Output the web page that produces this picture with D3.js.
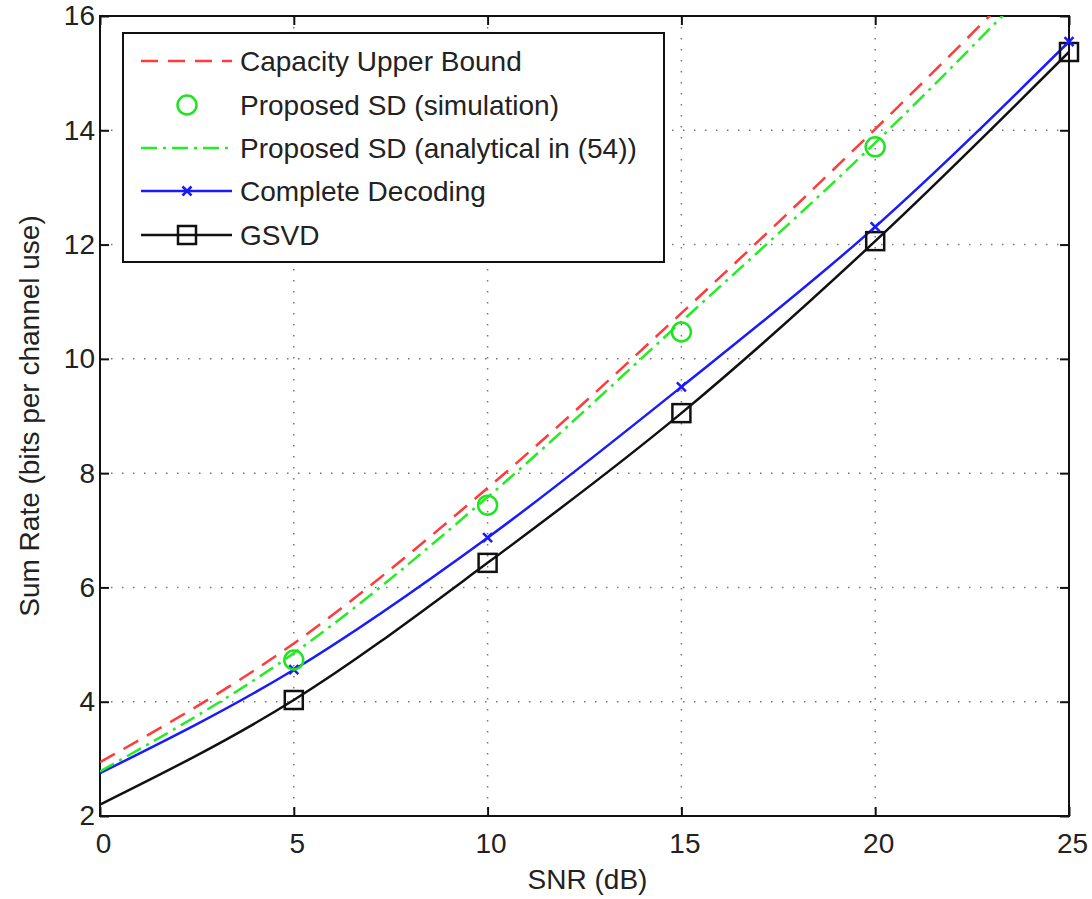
<!DOCTYPE html>
<html>
<head>
<meta charset="utf-8">
<script src="https://cdn.jsdelivr.net/npm/d3@7"></script>
<style>
  body { margin: 0; background: #fff; }
  svg text { font-family: "Liberation Sans", Arial, sans-serif; fill: #222; }
</style>
</head>
<body>
<svg id="chart" width="1092" height="899"></svg>
<script>
// SNR points (dB)
const snr = [0, 5, 10, 15, 20, 25];
const simSnr = [5, 10, 15, 20];

// sum rates
const capacityBound = [2.94, 5.02, 7.74, 10.8, 14.02, 17.4];
const sdSimulation = [4.73, 7.44, 10.47, 13.71];
const sdAnalytical = [2.78, 4.85, 7.58, 10.65, 13.78, 17.2];
const completeDecoding = [2.75, 4.56, 6.87, 9.51, 12.31, 15.55];
const gsvd = [2.2, 4.03, 6.43, 9.05, 12.06, 15.37];

const xTicks = [0, 5, 10, 15, 20, 25];
const yTicks = [2, 4, 6, 8, 10, 12, 14, 16];

const legendLabels = [
    "Capacity Upper Bound",
    "Proposed SD (simulation)",
    "Proposed SD (analytical in (54))",
    "Complete Decoding",
    "GSVD"
];

const svg = d3.select("#chart");
const margin = { left: 100, top: 16, right: 1069, bottom: 816 };

const x = d3.scaleLinear().domain([0, 25]).range([margin.left, margin.right]);
const y = d3.scaleLinear().domain([2, 16]).range([margin.bottom, margin.top]);

// grid
const grid = svg.append("g").attr("stroke", "#777").attr("stroke-width", 1.5)
    .attr("stroke-dasharray", "1.5,9.5");
grid.selectAll(".gx").data(xTicks.slice(1, -1)).enter().append("line")
    .attr("x1", d => x(d)).attr("x2", d => x(d))
    .attr("y1", margin.top).attr("y2", margin.bottom);
grid.selectAll(".gy").data(yTicks.slice(1, -1)).enter().append("line")
    .attr("y1", d => y(d)).attr("y2", d => y(d))
    .attr("x1", margin.left).attr("x2", margin.right);

// axes (inward ticks on all four sides, like matlab)
const fontSize = "28px";
const axB = svg.append("g").attr("transform", `translate(0,${margin.bottom})`)
    .call(d3.axisBottom(x).tickValues(xTicks).tickSizeInner(-9).tickSizeOuter(0).tickPadding(17));
const axT = svg.append("g").attr("transform", `translate(0,${margin.top})`)
    .call(d3.axisTop(x).tickValues(xTicks).tickSizeInner(-9).tickSizeOuter(0).tickFormat(""));
const axL = svg.append("g").attr("transform", `translate(${margin.left},0)`)
    .call(d3.axisLeft(y).tickValues(yTicks).tickSizeInner(-9).tickSizeOuter(0).tickPadding(5));
const axR = svg.append("g").attr("transform", `translate(${margin.right},0)`)
    .call(d3.axisRight(y).tickValues(yTicks).tickSizeInner(-9).tickSizeOuter(0).tickFormat(""));
[axB, axT, axL, axR].forEach(a => {
    a.select(".domain").remove();
    a.selectAll("line").attr("stroke", "#111").attr("stroke-width", 2);
    a.selectAll("text").style("font-size", fontSize).attr("fill", "#222")
        .style("font-family", "'Liberation Sans', Arial, sans-serif");
});
axB.selectAll("text").attr("dx", 3);

svg.append("rect")
    .attr("x", margin.left).attr("y", margin.top)
    .attr("width", margin.right - margin.left).attr("height", margin.bottom - margin.top)
    .attr("fill", "none").attr("stroke", "#111").attr("stroke-width", 2);

// clip for curves leaving the top
svg.append("clipPath").attr("id", "plotClip").append("rect")
    .attr("x", margin.left).attr("y", margin.top)
    .attr("width", margin.right - margin.left).attr("height", margin.bottom - margin.top);

const line = d3.line().x(d => x(d[0])).y(d => y(d[1])).curve(d3.curveMonotoneX);
const plot = svg.append("g").attr("clip-path", "url(#plotClip)");

const styles = [
    { color: "#ff3b3b", dash: "17,10" },
    { color: "#1ee61e", dash: null },
    { color: "#22ee22", dash: "16,6,3,6" },
    { color: "#1a1aff", dash: null },
    { color: "#111", dash: null }
];
const lw = 2.5;

function drawLine(vals, st) {
    plot.append("path").datum(d3.zip(snr, vals)).attr("d", line)
        .attr("fill", "none").attr("stroke", st.color).attr("stroke-width", lw)
        .attr("stroke-dasharray", st.dash);
}
drawLine(gsvd, styles[4]);
drawLine(completeDecoding, styles[3]);
drawLine(sdAnalytical, styles[2]);
drawLine(capacityBound, styles[0]);

function circleMark(g, cx, cy) {
    g.append("circle").attr("cx", cx).attr("cy", cy).attr("r", 9.5)
        .attr("fill", "none").attr("stroke", styles[1].color).attr("stroke-width", 2.5);
}
function crossMark(g, cx, cy) {
    const s = 4.5;
    g.append("path").attr("d", `M${cx - s},${cy - s}L${cx + s},${cy + s}M${cx - s},${cy + s}L${cx + s},${cy - s}`)
        .attr("stroke", styles[3].color).attr("stroke-width", 2.5);
}
function squareMark(g, cx, cy) {
    g.append("rect").attr("x", cx - 9).attr("y", cy - 9).attr("width", 18).attr("height", 18)
        .attr("fill", "none").attr("stroke", styles[4].color).attr("stroke-width", 2.5);
}

const marks = svg.append("g");
d3.zip(snr, gsvd).slice(1).forEach(d => squareMark(marks, x(d[0]), y(d[1])));
d3.zip(snr, completeDecoding).slice(1).forEach(d => crossMark(marks, x(d[0]), y(d[1])));
d3.zip(simSnr, sdSimulation).forEach(d => circleMark(marks, x(d[0]), y(d[1])));

// legend
const lg = svg.append("g");
lg.append("rect").attr("x", 123).attr("y", 33).attr("width", 541).attr("height", 229)
    .attr("fill", "#fff").attr("stroke", "#111").attr("stroke-width", 2);
const rowY = [61, 105, 148, 191, 235];
legendLabels.forEach((lab, i) => {
    const ry = rowY[i];
    const st = styles[i];
    if (i !== 1) {
        lg.append("line").attr("x1", 141).attr("x2", 232).attr("y1", ry).attr("y2", ry)
            .attr("stroke", st.color).attr("stroke-width", lw).attr("stroke-dasharray", st.dash);
    }
    if (i === 1) circleMark(lg, 187, ry);
    if (i === 3) crossMark(lg, 187, ry);
    if (i === 4) squareMark(lg, 187, ry);
    lg.append("text").attr("x", 240).attr("y", ry).attr("dy", "0.36em")
        .style("font-size", fontSize).text(lab);
});

// axis titles
svg.append("text").attr("x", x(12.5) + 3).attr("y", 889).attr("text-anchor", "middle")
    .style("font-size", fontSize).text("SNR (dB)");
svg.append("text").attr("transform", `translate(39,${(margin.top + margin.bottom) / 2}) rotate(-90)`)
    .attr("text-anchor", "middle").style("font-size", fontSize)
    .text("Sum Rate (bits per channel use)");
</script>
</body>
</html>
